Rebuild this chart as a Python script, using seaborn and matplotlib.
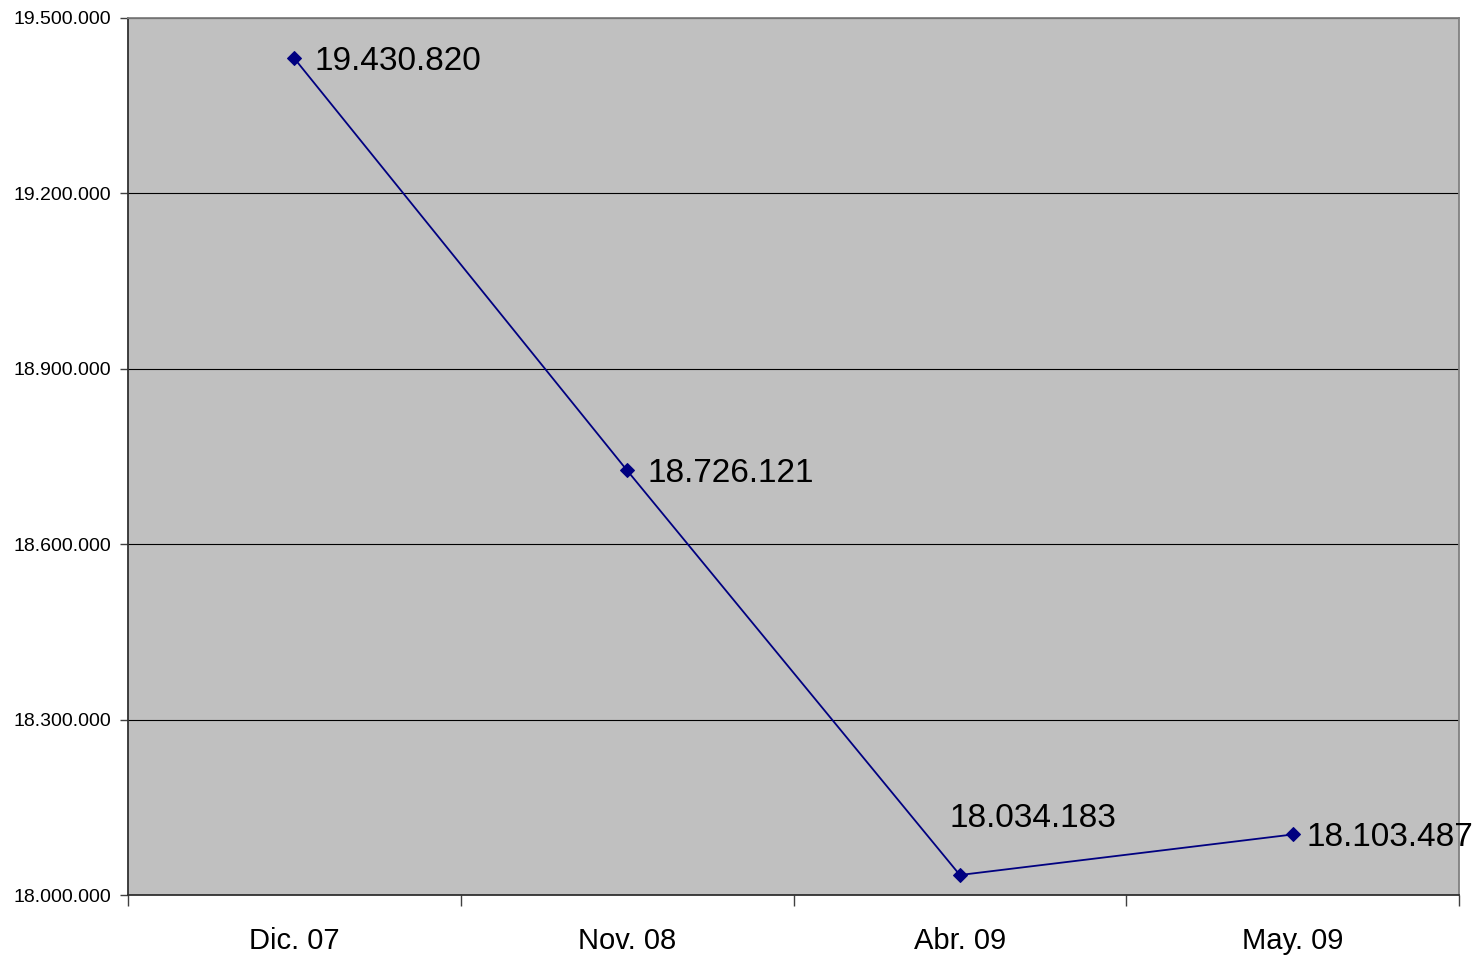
import matplotlib
matplotlib.use("Agg")
import matplotlib.pyplot as plt
import seaborn as sns
import numpy as np
from matplotlib.ticker import FixedLocator, FuncFormatter

categories = ["Dic. 07", "Nov. 08", "Abr. 09", "May. 09"]
values = [19430820, 18726121, 18034183, 18103487]
yticks = [18000000, 18300000, 18600000, 18900000, 19200000, 19500000]

sns.set_theme(style="white")
plt.rcParams['font.family'] = ['Liberation Sans', 'DejaVu Sans']

fig = plt.figure(figsize=(14.77, 9.58), dpi=100)
ax = fig.add_axes([128/1477, (958-895)/958, 1331/1477, 877/958])
ax.set_facecolor("#C0C0C0")

x = np.arange(len(categories))
sns.lineplot(x=x, y=values, ax=ax, color="#000080", linewidth=1.3,
             marker="D", markersize=7, markeredgecolor="#000080")

def fmt(v):
    return f"{int(v):,}".replace(",", ".")

n = len(values)
for i, v in enumerate(values):
    if i > 0 and v < values[i-1] and (i == n-1 or values[i+1] > v):
        off = (-10, 57)
    elif i == n - 1:
        off = (14, -3)
    else:
        off = (20, -3)
    ax.annotate(fmt(v), (i, v), xytext=off, textcoords="offset pixels",
                ha="left", va="center", fontsize=24, color="black")

ax.set_xlim(-0.5, n - 0.5)
ax.set_ylim(yticks[0], yticks[-1])
ax.set_yticks(yticks)
ax.yaxis.set_major_formatter(FuncFormatter(lambda v, p: fmt(v)))
ax.grid(axis="y", color="black", linewidth=0.8)
ax.set_axisbelow(True)

ax.xaxis.set_major_locator(FixedLocator(np.arange(-0.5, n, 1.0)))
ax.xaxis.set_major_formatter(FuncFormatter(lambda v, p: ""))
ax.xaxis.set_minor_locator(FixedLocator(x))
ax.set_xticklabels(categories, minor=True)
ax.tick_params(axis="x", which="major", direction="out", length=8, width=1, color="#404040", bottom=True)
ax.tick_params(axis="x", which="minor", length=0, pad=23, labelsize=21, labelcolor="black")
ax.tick_params(axis="y", direction="out", length=6, width=1, color="#404040", left=True, pad=6,
               labelsize=14, labelcolor="black")

for s in ["left", "bottom"]:
    ax.spines[s].set_color("#303030")
    ax.spines[s].set_linewidth(1.3)
for s in ["top", "right"]:
    ax.spines[s].set_color("#808080")
    ax.spines[s].set_linewidth(1.3)

ax.set_xlabel("")
ax.set_ylabel("")
fig.savefig("out.png", dpi=100)
